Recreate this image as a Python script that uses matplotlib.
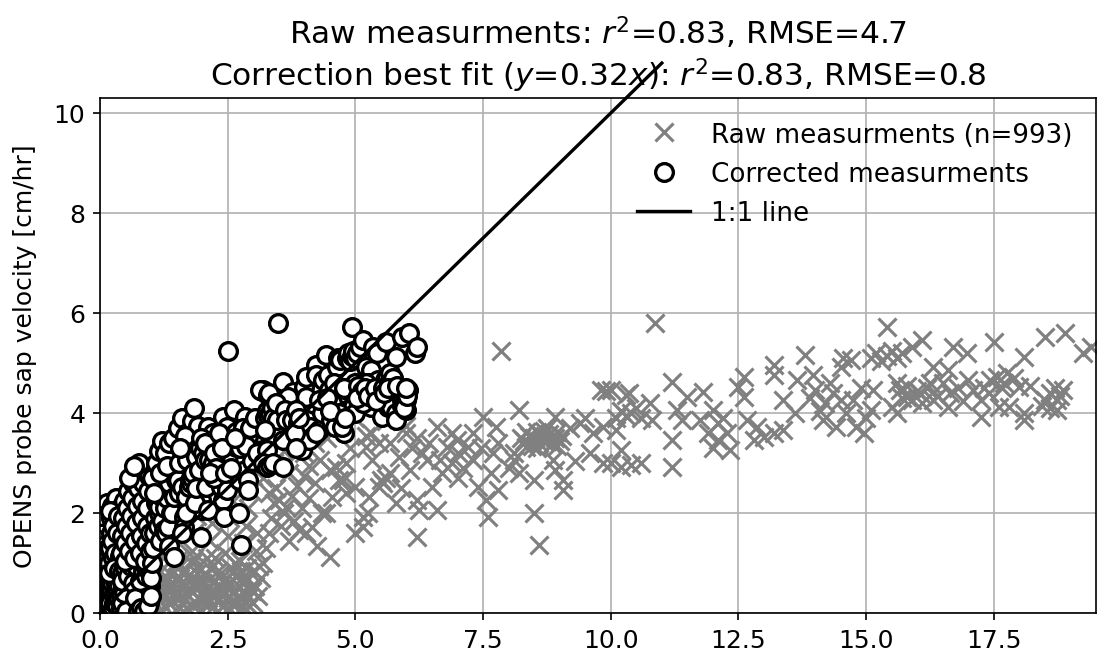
import numpy as np
import matplotlib
matplotlib.use("Agg")
from matplotlib import pyplot as plt

# raw probe readings: (reference velocity, OPENS velocity)
raw_pts = [
    # near the origin, x < 0.5
    (0.05, 0.10), (0.06, 0.35), (0.08, 0.60), (0.10, 0.85), (0.12, 1.10), (0.14, 1.35),
    (0.16, 1.55), (0.18, 0.20), (0.20, 0.45), (0.22, 0.70), (0.24, 0.95), (0.26, 1.20),
    (0.28, 1.45), (0.30, 1.70), (0.32, 1.95), (0.34, 0.15), (0.36, 0.40), (0.38, 0.65),
    (0.40, 0.90), (0.42, 1.15), (0.44, 1.40), (0.46, 1.65), (0.48, 1.90), (0.12, 0.30),
    (0.20, 0.05), (0.25, 0.30), (0.30, 0.55), (0.35, 0.80), (0.40, 0.25), (0.45, 0.50),
    (0.15, 0.75), (0.22, 1.00), (0.28, 0.10), (0.33, 0.35), (0.38, 1.25), (0.43, 0.05),
    (0.47, 0.30), (0.10, 1.60), (0.18, 1.80), (0.25, 2.05), (0.35, 2.15), (0.45, 2.20),
    (0.08, 1.95), (0.30, 1.25), (0.42, 0.60),
    (0.03, 0.20), (0.07, 0.45), (0.09, 0.05), (0.11, 0.55), (0.13, 0.15), (0.17, 0.40),
    (0.19, 0.65), (0.21, 0.25), (0.23, 0.50), (0.27, 0.05), (0.29, 0.35), (0.31, 0.70),
    (0.37, 0.10), (0.39, 0.50), (0.41, 0.75), (0.49, 0.15), (0.04, 0.95), (0.09, 1.25),
    (0.16, 1.05), (0.21, 1.35), (0.27, 0.85), (0.36, 1.05), (0.44, 0.95), (0.49, 1.30),
    # 0.5 - 1.25
    (0.52, 0.05), (0.55, 0.25), (0.58, 0.45), (0.60, 0.65), (0.62, 0.10), (0.65, 0.30),
    (0.68, 0.50), (0.70, 0.75), (0.72, 0.15), (0.75, 0.35), (0.78, 0.55), (0.80, 0.05),
    (0.82, 0.25), (0.85, 0.45), (0.88, 0.65), (0.90, 0.15), (0.92, 0.35), (0.95, 0.55),
    (0.98, 0.10), (1.00, 0.30), (1.02, 0.50), (1.05, 0.70), (1.08, 0.20), (1.10, 0.40),
    (1.12, 0.60), (1.15, 0.05), (1.18, 0.25), (1.20, 0.45), (1.23, 0.65),
    (0.53, 0.40), (0.57, 0.60), (0.63, 0.20), (0.67, 0.45), (0.73, 0.60), (0.77, 0.10),
    (0.83, 0.40), (0.87, 0.20), (0.93, 0.65), (0.97, 0.30), (1.03, 0.15), (1.07, 0.45),
    (1.13, 0.30), (1.17, 0.55),
    (0.55, 1.00), (0.60, 1.30), (0.65, 1.60), (0.70, 1.90), (0.75, 2.15), (0.80, 1.10),
    (0.85, 1.40), (0.90, 1.70), (0.95, 2.00), (1.00, 2.30), (1.05, 0.95), (1.10, 1.25),
    (1.15, 1.55), (1.20, 1.85), (1.25, 2.10), (0.62, 2.05), (0.72, 1.45), (0.82, 1.75),
    (0.92, 1.20), (1.02, 1.60), (1.12, 1.95), (1.22, 1.15), (0.58, 0.80), (0.88, 0.90),
    (1.18, 0.85),
    # 1.25 - 3.1, low band
    (1.30, 0.10), (1.33, 0.45), (1.36, 0.80), (1.40, 0.25), (1.43, 0.60), (1.46, 0.95),
    (1.50, 0.05), (1.53, 0.40), (1.56, 0.70), (1.60, 0.20), (1.63, 0.55), (1.66, 0.85),
    (1.70, 0.10), (1.73, 0.35), (1.76, 0.65), (1.80, 1.00), (1.83, 0.15), (1.86, 0.50),
    (1.90, 0.80), (1.93, 0.30), (1.96, 0.60), (2.00, 0.05), (2.03, 0.40), (2.06, 0.75),
    (2.10, 0.20), (2.13, 0.55), (2.16, 0.90), (2.20, 0.10), (2.23, 0.35), (2.26, 0.65),
    (2.30, 0.25), (2.33, 0.50), (2.36, 0.80), (2.40, 0.15), (2.43, 0.45), (2.46, 0.70),
    (2.50, 0.30), (2.53, 0.60), (2.56, 0.90), (2.60, 0.20), (2.63, 0.45), (2.66, 0.75),
    (2.70, 0.35), (2.73, 0.55), (2.76, 0.85), (2.80, 0.15), (2.83, 0.40), (2.86, 0.65),
    (2.90, 0.30), (2.93, 0.50), (2.96, 0.80), (3.00, 0.20), (3.03, 0.55), (1.38, 0.55),
    (1.58, 0.35), (1.78, 0.45), (1.98, 0.25), (2.18, 0.45), (2.38, 0.35), (2.58, 0.40),
    (2.78, 0.60), (2.98, 0.45), (1.48, 0.70), (1.68, 0.40), (1.88, 0.65), (2.08, 0.50),
    (2.28, 0.80), (2.48, 0.55), (2.68, 0.20), (2.88, 0.90),
    (1.27, 0.35), (1.35, 0.20), (1.45, 0.40), (1.32, 0.65), (1.52, 0.90), (1.62, 0.05),
    (1.72, 0.75), (1.92, 0.95), (2.02, 0.60), (2.12, 0.30), (2.22, 0.95), (2.32, 0.05),
    (2.42, 0.65), (2.52, 0.10), (2.62, 0.85), (2.72, 0.05), (2.82, 0.75), (2.92, 0.15),
    (3.02, 0.85), (1.85, 1.10), (2.25, 1.10), (2.65, 1.00), (3.12, 0.95),
    # 1.25 - 3.1, upper band
    (1.30, 1.20), (1.35, 1.55), (1.40, 1.90), (1.45, 2.25), (1.50, 1.05), (1.55, 1.40),
    (1.60, 1.75), (1.65, 2.10), (1.70, 2.45), (1.80, 1.25), (1.85, 1.60), (1.90, 1.95),
    (1.95, 2.30), (2.00, 2.60), (2.10, 1.10), (2.15, 1.45), (2.20, 1.80), (2.25, 2.15),
    (2.30, 2.50), (2.35, 2.80), (2.45, 1.20), (2.50, 1.55), (2.55, 1.90), (2.60, 2.25),
    (2.65, 2.60), (2.70, 2.90), (2.75, 1.05), (2.80, 1.40), (2.85, 1.75), (2.90, 2.10),
    (2.95, 2.45), (3.00, 2.75), (3.05, 1.25), (3.08, 1.60), (2.40, 3.00), (1.75, 2.70),
    (2.05, 2.95),
    # 3.1 - 4.7
    (3.10, 0.35), (3.15, 0.70), (3.20, 1.00), (3.25, 1.30), (3.30, 1.60), (3.35, 1.90),
    (3.40, 2.20), (3.45, 2.50), (3.50, 2.26), (3.55, 1.75), (3.60, 2.00), (3.64, 2.13),
    (3.70, 1.45), (3.75, 2.35), (3.80, 1.85), (3.85, 2.55), (3.90, 1.66), (3.95, 2.10),
    (4.00, 2.75), (4.04, 1.60), (4.10, 2.30), (4.16, 1.73), (4.20, 2.60), (4.25, 1.35),
    (4.30, 3.06), (4.35, 2.00), (4.43, 2.00), (4.50, 1.13), (4.50, 2.86), (4.55, 2.33),
    (4.63, 2.93), (4.68, 2.66), (3.20, 2.70), (3.40, 3.00), (3.60, 3.25), (3.80, 3.45),
    (4.00, 3.20), (4.20, 3.40), (4.45, 3.50), (3.30, 2.40), (3.70, 2.80), (4.10, 2.95),
    # 4.7 - 6.3
    (4.75, 2.66), (4.82, 3.00), (4.82, 2.40), (5.00, 2.53), (5.14, 1.93), (5.14, 1.73),
    (5.20, 3.33), (5.27, 2.33), (5.33, 3.06), (5.47, 2.53), (5.47, 3.40), (5.50, 2.66),
    (5.55, 2.60), (5.60, 2.70), (5.67, 2.80), (5.67, 3.40), (5.86, 3.13), (6.00, 3.60),
    (6.06, 2.86), (6.20, 2.26), (6.20, 1.53), (6.25, 2.06), (5.00, 1.60), (5.25, 2.00),
    (5.80, 2.20), (5.90, 2.50), (6.10, 3.30), (4.80, 3.70), (5.00, 3.90), (5.30, 3.60),
    (5.60, 3.85), (5.75, 4.10), (6.00, 3.75), (5.20, 3.55), (4.90, 3.30),
    # 6.3 - 10
    (6.30, 3.20), (6.40, 3.06), (6.50, 2.53), (6.60, 3.73), (6.60, 2.06), (6.65, 3.06),
    (6.80, 3.33), (6.90, 3.60), (6.90, 3.00), (6.98, 3.46), (7.20, 3.33), (7.30, 3.06),
    (7.40, 2.53), (7.50, 3.93), (7.55, 2.26), (7.60, 1.93), (7.70, 3.20), (7.76, 3.73),
    (7.80, 3.40), (7.80, 2.46), (7.86, 5.25), (8.10, 3.20), (8.10, 3.06), (8.20, 4.06),
    (8.20, 2.80), (8.35, 3.33), (8.50, 2.66), (8.50, 2.00), (8.60, 1.37), (8.67, 3.46),
    (8.86, 3.06), (8.90, 3.93), (8.90, 2.86), (9.06, 2.66), (9.06, 2.46), (9.40, 3.80),
    (9.65, 3.60), (9.84, 3.00), (9.85, 3.73), (9.91, 4.45),
    (8.30, 3.45), (8.40, 3.55), (8.45, 3.35), (8.50, 3.50), (8.55, 3.62), (8.60, 3.40),
    (8.65, 3.55), (8.70, 3.65), (8.75, 3.45), (8.80, 3.58), (8.85, 3.38), (8.90, 3.50),
    (8.95, 3.62), (9.00, 3.45), (9.05, 3.55), (8.35, 3.62), (8.55, 3.30), (8.75, 3.70),
    (8.95, 3.35),
    (6.20, 3.50), (6.45, 3.40), (7.00, 3.20), (7.10, 2.90), (7.30, 3.60), (7.00, 2.70),
    (6.70, 2.80), (7.45, 3.30), (7.65, 2.80), (8.00, 2.90), (8.25, 3.50), (9.20, 3.70),
    (9.30, 3.05), (9.50, 3.90), (9.60, 3.20),
    # 10 - 19.5
    (10.00, 4.46), (9.80, 4.46), (10.30, 4.36), (10.35, 4.40), (11.20, 4.63), (10.10, 3.90),
    (10.20, 4.05), (10.30, 3.95), (10.40, 4.00), (10.50, 4.10), (10.60, 3.90), (10.80, 3.86),
    (10.10, 3.66), (11.20, 3.46), (10.20, 3.26), (10.00, 3.00), (10.20, 2.93), (10.40, 2.96),
    (10.60, 3.00), (11.20, 2.93), (10.86, 5.80), (11.80, 4.42), (11.50, 4.33), (10.76, 4.20),
    (12.50, 4.53), (12.60, 4.33), (11.30, 4.06), (11.40, 3.86), (11.75, 3.86), (12.00, 4.06),
    (12.10, 3.80), (12.27, 3.60), (12.33, 3.26), (12.10, 3.46), (12.67, 3.86), (12.86, 3.73),
    (13.00, 3.53), (12.80, 3.46), (13.37, 3.66), (13.60, 4.00), (13.37, 4.26), (12.60, 4.73),
    (13.20, 4.96), (13.20, 4.76), (13.65, 4.66), (13.80, 5.16), (13.96, 4.76), (14.00, 4.46),
    (14.16, 3.86), (14.40, 3.73), (14.35, 4.40), (14.50, 4.26), (14.75, 4.26), (14.95, 3.60),
    (14.80, 3.73), (15.10, 4.06), (15.14, 4.46), (14.50, 4.93), (14.55, 5.10), (14.70, 5.06),
    (15.10, 5.10), (15.20, 5.20), (15.30, 5.05), (15.40, 5.15), (15.50, 5.25), (15.60, 5.10),
    (15.70, 5.20), (15.40, 5.73), (15.60, 4.60), (15.67, 4.46), (15.80, 4.33), (15.90, 4.26),
    (15.50, 4.13), (15.60, 4.00), (15.90, 5.33), (16.10, 5.46), (16.06, 4.40), (16.30, 4.93),
    (16.60, 4.86), (16.50, 4.60), (16.65, 4.40), (16.60, 4.13), (16.70, 5.33), (16.97, 5.20),
    (17.00, 4.66), (17.10, 4.46), (17.24, 4.26), (17.24, 3.93), (17.43, 4.66), (17.50, 5.43),
    (17.56, 4.73), (17.75, 4.80), (18.00, 4.53), (17.60, 4.13), (17.80, 4.13), (18.10, 4.00),
    (18.10, 3.86), (18.10, 5.13), (18.50, 5.53), (18.90, 5.60), (18.50, 4.26), (18.60, 4.40),
    (18.74, 4.26), (18.86, 4.46), (18.74, 4.06), (19.25, 5.20), (19.40, 5.33), (16.30, 4.26),
    (16.25, 4.60), (11.90, 3.60), (12.20, 3.90), (12.00, 3.30), (14.20, 4.20), (14.60, 4.00),
    (14.30, 4.60), (13.90, 4.30), (14.10, 4.05), (14.90, 4.50), (15.00, 3.90), (15.80, 4.55),
    (16.00, 4.45), (16.10, 4.20), (15.70, 4.30), (16.20, 4.50), (16.40, 4.35), (16.80, 4.50),
    (16.90, 4.25), (17.30, 4.50), (17.40, 4.40), (17.70, 4.60), (17.90, 4.70), (17.65, 4.50),
    (18.20, 4.55), (18.45, 4.15), (18.60, 4.10), (18.80, 4.35), (18.70, 4.50), (13.20, 3.60),
]
raw_x = np.array([p[0] for p in raw_pts])
raw_y = np.array([p[1] for p in raw_pts])

slope = 0.32
corr_x = slope * raw_x
one_to_one = [0, 11]

fig = plt.figure(figsize=(7.32, 4.373), dpi=150)
ax = fig.add_axes([100 / 1098, 42 / 656, 996 / 1098, 515 / 656])

ax.plot(raw_x, raw_y, 'x', color='grey', ms=8.5, mew=1.5, label='Raw measurments (n=993)')
ax.plot(corr_x, raw_y, 'o', mfc='white', mec='black', ms=8.5, mew=1.6,
        label='Corrected measurments')
ax.plot(one_to_one, one_to_one, '-', color='black', lw=1.6, clip_on=False, label='1:1 line')

ax.set_xlim(0, 19.5)
ax.set_ylim(0, 10.3)
ax.set_xticks(np.arange(0, 19, 2.5))
ax.set_yticks(np.arange(0, 11, 2))
ax.tick_params(labelsize=12)
ax.grid(True, color='#b0b0b0', lw=0.8)
ax.set_axisbelow(True)
ax.set_ylabel('OPENS probe sap velocity [cm/hr]', fontsize=12, labelpad=8)
ax.set_title('Raw measurments: $r^2$=0.83, RMSE=4.7\n'
             'Correction best fit ($y$=0.32$x$): $r^2$=0.83, RMSE=0.8', fontsize=15)
ax.legend(loc='upper right', frameon=False, fontsize=12.6)

plt.savefig('out.png')
